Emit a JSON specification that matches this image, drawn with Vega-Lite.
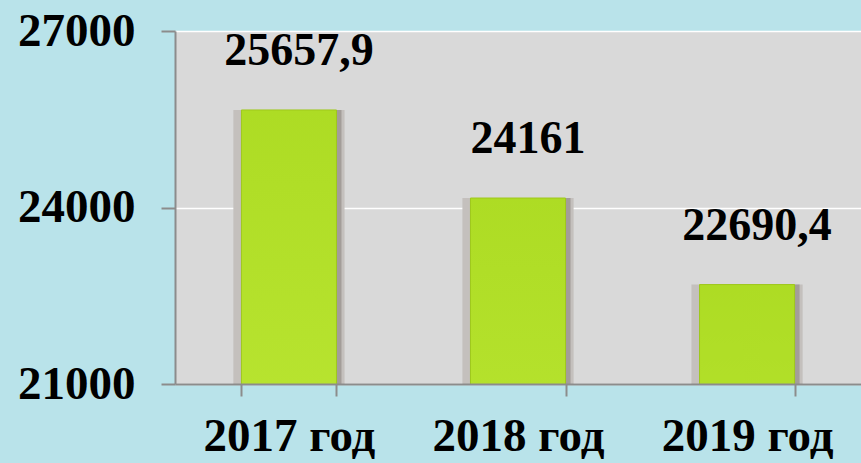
{
  "$schema": "https://vega.github.io/schema/vega-lite/v6.json",
  "width": 686,
  "height": 353,
  "autosize": {"type": "none"},
  "padding": {"left": 175, "top": 31, "right": 0, "bottom": 79},
  "background": "#b9e3ea",
  "config": {
    "view": {"fill": "#d9d9d9", "stroke": null},
    "font": "Liberation Serif"
  },
  "data": {
    "values": [
      {"year": "2017 год", "value": 25657.9, "label": "25657,9"},
      {"year": "2018 год", "value": 24161, "label": "24161"},
      {"year": "2019 год", "value": 22690.4, "label": "22690,4"}
    ]
  },
  "encoding": {
    "x": {
      "field": "year",
      "type": "nominal",
      "sort": null,
      "scale": {"paddingInner": 0.585, "paddingOuter": 0.29},
      "axis": {
        "title": null,
        "labelAngle": 0,
        "labelFont": "Liberation Serif",
        "labelFontSize": 47,
        "labelFontWeight": "bold",
        "labelColor": "#000000",
        "labelPadding": 17,
        "tickBand": "extent",
        "tickSize": 12,
        "tickColor": "#8c8c8c",
        "tickWidth": 2,
        "domainColor": "#8c8c8c",
        "domainWidth": 2,
        "zindex": 1
      }
    }
  },
  "layer": [
    {
      "mark": {"type": "bar", "color": "#c4c0bd", "width": {"band": 1.17}, "y2": 353, "clip": true},
      "encoding": {
        "y": {"field": "value", "type": "quantitative"}
      }
    },
    {
      "mark": {"type": "bar", "color": "#a39d99", "width": {"band": 1.0}, "xOffset": 5, "y2": 353, "clip": true},
      "encoding": {
        "y": {"field": "value", "type": "quantitative"}
      }
    },
    {
      "mark": {
        "type": "bar",
        "clip": true,
        "y2": 353,
        "stroke": "#9fc81c",
        "strokeWidth": 1,
        "color": {
          "gradient": "radial",
          "x1": 0.5, "y1": 0.5, "r1": 0,
          "x2": 0.5, "y2": 0.5, "r2": 0.6,
          "stops": [
            {"offset": 0, "color": "#d6f56a"},
            {"offset": 0.5, "color": "#b8e430"},
            {"offset": 1, "color": "#a8d81e"}
          ]
        }
      },
      "encoding": {
        "y": {
          "field": "value",
          "type": "quantitative",
          "scale": {"domain": [21000, 27000], "zero": false, "nice": false},
          "axis": {
            "title": null,
            "values": [21000, 24000, 27000],
            "format": "d",
            "labelFont": "Liberation Serif",
            "labelFontSize": 47,
            "labelFontWeight": "bold",
            "labelColor": "#000000",
            "labelPadding": 26,
            "tickSize": 14,
            "tickColor": "#8c8c8c",
            "tickWidth": 2,
            "domainColor": "#8c8c8c",
            "domainWidth": 2,
            "grid": true,
            "gridColor": "#ffffff",
            "gridWidth": 1.5
          }
        }
      }
    },
    {
      "mark": {
        "type": "text",
        "font": "Liberation Serif",
        "fontSize": 46,
        "fontWeight": "bold",
        "color": "#000000",
        "baseline": "bottom",
        "dy": -35,
        "dx": 10
      },
      "encoding": {
        "y": {"field": "value", "type": "quantitative"},
        "text": {"field": "label", "type": "nominal"}
      }
    }
  ]
}
